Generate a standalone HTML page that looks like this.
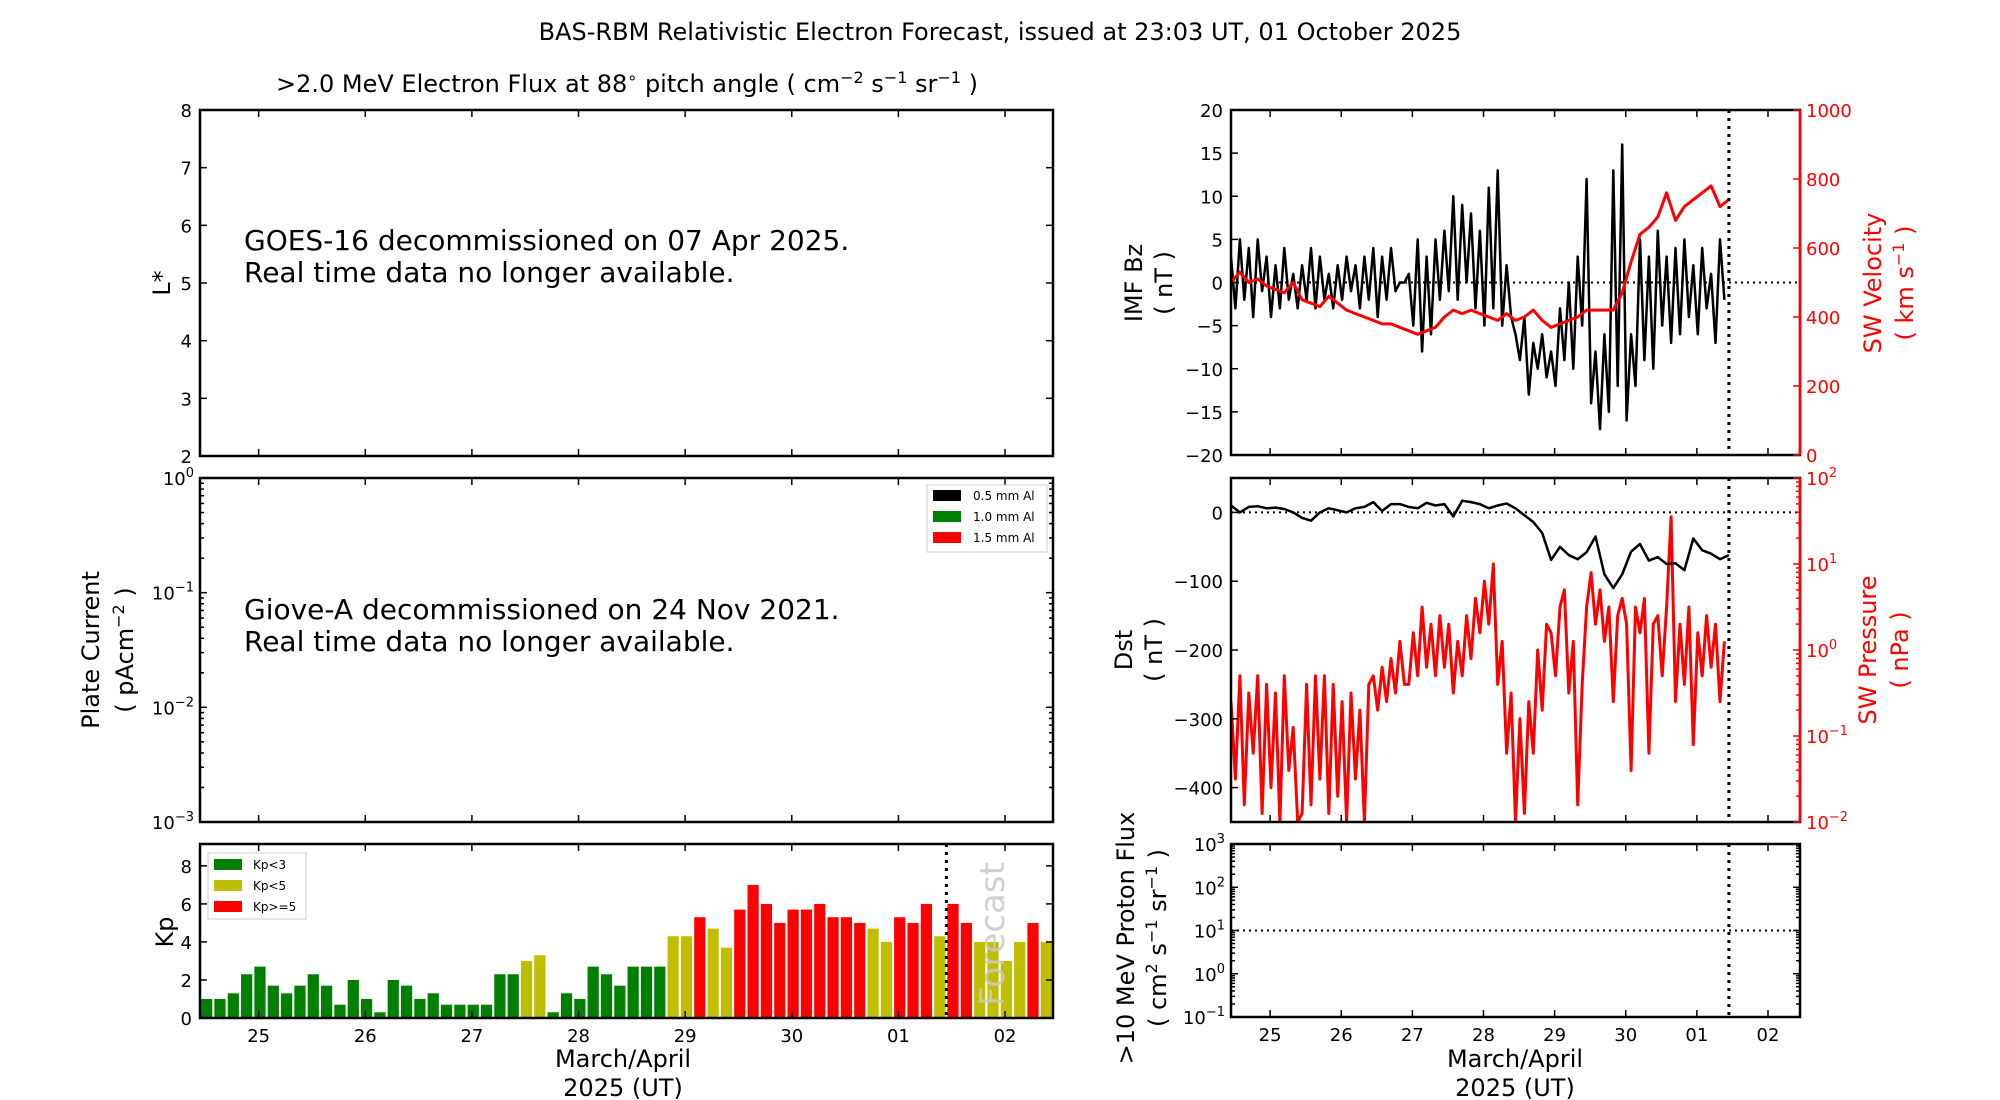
<!DOCTYPE html>
<html><head><meta charset="utf-8"><style>
html,body{margin:0;padding:0;background:#fff;}
svg{display:block;font-family:"DejaVu Sans","Liberation Sans",sans-serif;}
</style></head><body>
<svg id="fig" width="2000" height="1100" viewBox="0 0 2000 1100" xmlns="http://www.w3.org/2000/svg">
<rect width="2000" height="1100" fill="#fff"/>
<text x="1000" y="40" font-size="24" text-anchor="middle">BAS-RBM Relativistic Electron Forecast, issued at 23:03 UT, 01 October 2025</text>
<text x="627" y="92" font-size="24" text-anchor="middle">&gt;2.0 MeV Electron Flux at 88<tspan dy="-9" font-size="16">∘</tspan><tspan dy="9"> pitch angle ( cm</tspan><tspan dy="-9" font-size="16">−2</tspan><tspan dy="9"> s</tspan><tspan dy="-9" font-size="16">−1</tspan><tspan dy="9"> sr</tspan><tspan dy="-9" font-size="16">−1</tspan><tspan dy="9"> )</tspan></text>
<text x="244" y="250" font-size="28">GOES-16 decommissioned on 07 Apr 2025.</text>
<text x="244" y="282" font-size="28">Real time data no longer available.</text>
<text x="244" y="619" font-size="28">Giove-A decommissioned on 24 Nov 2021.</text>
<text x="244" y="651" font-size="28">Real time data no longer available.</text>
<text transform="translate(170,283) rotate(-90)" font-size="24" text-anchor="middle">L*</text>
<text transform="translate(99,650) rotate(-90)" font-size="24" text-anchor="middle">Plate Current</text>
<text transform="translate(133,650) rotate(-90)" font-size="24" text-anchor="middle">( pAcm<tspan dy="-9" font-size="16">−2</tspan><tspan dy="9"> )</tspan></text>
<text transform="translate(173,932) rotate(-90)" font-size="24" text-anchor="middle">Kp</text>
<text x="623" y="1067" font-size="24" text-anchor="middle">March/April</text>
<text x="623" y="1096" font-size="24" text-anchor="middle">2025 (UT)</text>
<text x="1515" y="1067" font-size="24" text-anchor="middle">March/April</text>
<text x="1515" y="1096" font-size="24" text-anchor="middle">2025 (UT)</text>
<text transform="translate(1142,283) rotate(-90)" font-size="24" text-anchor="middle">IMF Bz</text>
<text transform="translate(1172,283) rotate(-90)" font-size="24" text-anchor="middle">( nT )</text>
<text transform="translate(1881,283) rotate(-90)" font-size="24" fill="#f00" text-anchor="middle">SW Velocity</text>
<text transform="translate(1913,283) rotate(-90)" font-size="24" fill="#f00" text-anchor="middle">( km s<tspan dy="-9" font-size="16">−1</tspan><tspan dy="9"> )</tspan></text>
<text transform="translate(1132,650) rotate(-90)" font-size="24" text-anchor="middle">Dst</text>
<text transform="translate(1162,650) rotate(-90)" font-size="24" text-anchor="middle">( nT )</text>
<text transform="translate(1876,650) rotate(-90)" font-size="24" fill="#f00" text-anchor="middle">SW Pressure</text>
<text transform="translate(1908,650) rotate(-90)" font-size="24" fill="#f00" text-anchor="middle">( nPa )</text>
<text transform="translate(1134,938) rotate(-90)" font-size="24" text-anchor="middle">&gt;10 MeV Proton Flux</text>
<text transform="translate(1166,938) rotate(-90)" font-size="24" text-anchor="middle">( cm<tspan dy="-9" font-size="16">2</tspan><tspan dy="9"> s</tspan><tspan dy="-9" font-size="16">−1</tspan><tspan dy="9"> sr</tspan><tspan dy="-9" font-size="16">−1</tspan><tspan dy="9"> )</tspan></text>
<defs>
<clipPath id="clipR1"><rect x="1231" y="110" width="569" height="345"/></clipPath>
<clipPath id="clipR2"><rect x="1231" y="478" width="569" height="344"/></clipPath>
</defs>
<g id="marks"></g>
</svg>
<script>
// ---- data (time in days from plot start; tick labels) ----
const dayLabels = ["25","26","27","28","29","30","01","02"];
const kpValues = [1,1,1.3,2.3,2.7,1.7,1.3,1.7, 2.3,1.7,0.7,2,1,0.3,2,1.7, 1,1.3,0.7,0.7,0.7,0.7,2.3,2.3, 3,3.3,0.3,1.3,1,2.7,2.3,1.7, 2.7,2.7,2.7,4.3,4.3,5.3,4.7,3.7, 5.7,7,6,5,5.7,5.7,6,5.3, 5.3,5,4.7,4,5.3,5,6,4.3, 6,5,4,4,3,4,5,4];
const bzValues = [3,-3,5,-2,4,-4,5,-1,3,-4,2,-3,4,-2,1,-3, 2,-2,4,-3,3,-2,1,-3,2,-2,3,-1,2,-3,3,-2, 4,-4,3,-2,4,-1,0,0,1,-5,5,-8,3,-6,5,-2, 6,-1,10,-2,9,0,8,-3,6,-5,11,-3,13,-5,2,-4, -6,-9,-4,-13,-7,-10,-6,-11,-8,-12,-3,-9,0,-10,3,-5, 12,-14,-8,-17,-6,-15,13,-12,16,-16,-6,-12,5,-9,3,-10, 6,-5,3,-7,4,-6,5,-4,2,-6,4,-3,1,-7,5,-2];
const velValues = [500,530,500,510,490,480,470,500,450,440,430,460,440,420,410,400,390,380,380,370,360,350,360,370,400,420,410,420,410,400,390,410,390,400,420,390,370,380,390,400,420,420,420,420,470,560,640,660,690,760,680,720,740,760,780,720,740];
const dstValues = [10,0,8,9,6,7,5,0,-8,-12,0,6,3,0,6,8,15,2,12,12,8,6,14,10,12,-6,17,15,12,6,10,13,6,-4,-14,-30,-69,-50,-62,-68,-58,-35,-90,-110,-90,-57,-46,-70,-65,-75,-74,-84,-38,-55,-60,-68,-62];
const presLog = [-0.6,-1.5,-0.3,-1.8,-0.5,-1.2,-0.3,-1.9,-0.4,-1.6,-0.5,-2.0,-0.3,-1.4,-0.9,-2.0, -1.9,-0.4,-1.8,-0.3,-1.5,-0.3,-1.9,-0.4,-1.7,-0.6,-2.0,-0.5,-1.5,-0.7,-2.0,-0.4, -0.3,-0.7,-0.2,-0.6,-0.1,-0.5,0.1,-0.4,-0.4,0.2,-0.3,0.5,-0.2,0.3,-0.3,0.4, -0.2,0.3,-0.5,0.1,-0.3,0.4,-0.1,0.6,0.2,0.8,0.3,1.0,-0.4,0.1,-1.2,-0.5, -2.0,-0.8,-1.9,-0.6,-1.2,0.0,-0.7,0.3,0.2,-0.3,0.5,0.7,-0.5,0.1,-1.8,-0.4, 0.5,0.9,0.3,0.7,0.1,0.5,-0.6,0.4,0.6,0.3,-1.4,0.5,0.2,0.6,-1.2,0.3, 0.4,-0.3,0.5,1.55,-0.6,0.3,-0.4,0.5,-1.1,0.2,-0.3,0.4,-0.2,0.3,-0.6,0.1];
const nowDay = 7.0;
const firstTickDay = 0.55;
const kpTicks = [0,2,4,6,8];
const lstarTicks = [2,3,4,5,6,7,8];
const bzTicks = [-20,-15,-10,-5,0,5,10,15,20];
const velTicks = [0,200,400,600,800,1000];
const dstTicks = [0,-100,-200,-300,-400];

const NS = "http://www.w3.org/2000/svg";
const G = document.getElementById('marks');
function mk(tag, attrs, parent){ const e=document.createElementNS(NS,tag); for(const k in attrs) e.setAttribute(k,attrs[k]); (parent||G).appendChild(e); return e; }
function lin(d0,d1,r0,r1){ return v => r0 + (v-d0)/(d1-d0)*(r1-r0); }

const L = {x0:200,x1:1053}, R = {x0:1231,x1:1800};
const xL = lin(0,8,L.x0,L.x1), xR = lin(0,8,R.x0,R.x1);

function frame(x0,y0,x1,y1,name,redRight){
  const f = mk('rect',{x:x0,y:y0,width:x1-x0,height:y1-y0,fill:'none',stroke:'#000','stroke-width':2.5});
  
  
  if(redRight){ const r = mk('line',{x1:x1,y1:y0,x2:x1,y2:y1,stroke:'#f00','stroke-width':2.5});
    
     }
}
function label(x,y,s,anchor,color,name,sup){
  const t = mk('text',{x:x,y:y,'font-size':18,'text-anchor':anchor,fill:color||'#000'});
  
  
  t.textContent = s;
  if(sup!==undefined){ const ts=mk('tspan',{dy:-8,'font-size':13},t); ts.textContent=sup; }
  return t;
}
function tick(x1,y1,x2,y2,color){ const t=mk('line',{x1:x1,y1:y1,x2:x2,y2:y2,stroke:color||'#000','stroke-width':1.5});
  
   }
function xticks(xs,y0,y1,labels,pfx){
  for(let k=0;k<dayLabels.length;k++){
    const x = xs(firstTickDay+k);
    tick(x,y1,x,y1-7); tick(x,y0,x,y0+7);
    if(labels) label(x,y1+24,dayLabels[k],'middle','#000',pfx+'-x-tick-'+dayLabels[k]);
  }
}
function logTicks(ys,dmin,dmax,xa,xb,side,color,pfx){
  for(let d=dmin; d<=dmax; d++){
    const y = ys(d);
    if(side==='left'){ tick(xa,y,xa+7,y,color); label(xa-6,y+7,'10','end',color,pfx+'-tick-'+d,d<0?('−'+(-d)):String(d)); tick(xb,y,xb-7,y,color); }
    else { tick(xb,y,xb-7,y,color); label(xb+6,y+7,'10','start',color,pfx+'-tick-'+d,d<0?('−'+(-d)):String(d)); }
    if(d<dmax) for(let m=2;m<10;m++){ const ym=ys(d+Math.log10(m)); if(side==='left'){tick(xa,ym,xa+4,ym,color);tick(xb,ym,xb-4,ym,color);} else tick(xb,ym,xb-4,ym,color); }
  }
}
function polyline(pts,color,w,name,clip,dash){
  const p = mk('polyline',{points:pts.map(q=>q[0].toFixed(1)+','+q[1].toFixed(1)).join(' '),fill:'none',stroke:color,'stroke-width':w,'stroke-linejoin':'round'});
  if(clip) p.setAttribute('clip-path','url(#'+clip+')');
  if(dash) p.setAttribute('stroke-dasharray',dash);
  
  
}

// ---- Panel L1: L* ----
{ const y0=110,y1=456, ys=lin(2,8,y1,y0);
  frame(L.x0,y0,L.x1,y1,'lstar-panel');
  lstarTicks.forEach(v=>{ tick(L.x0,ys(v),L.x0+7,ys(v)); tick(L.x1,ys(v),L.x1-7,ys(v)); label(L.x0-8,ys(v)+7,String(v),'end','#000','lstar-tick-'+v); });
  xticks(xL,y0,y1,false,'lstar');
}
// ---- Panel L2: plate current ----
{ const y0=478,y1=822, ys=lin(-3,0,y1,y0);
  frame(L.x0,y0,L.x1,y1,'plate-current-panel');
  logTicks(ys,-3,0,L.x0,L.x1,'left','#000','plate-current');
  xticks(xL,y0,y1,false,'plate');
  const lg = mk('rect',{x:927,y:485,width:120,height:67,fill:'#fff',stroke:'#ccc','stroke-width':1});
  
  
  [['0.5 mm Al','#000'],['1.0 mm Al','#008000'],['1.5 mm Al','#f00']].forEach((e,i)=>{
    const sw = mk('rect',{x:933,y:490+i*21,width:28,height:11,fill:e[1]});
    
    
    const t = mk('text',{x:973,y:500+i*21,'font-size':12});
    
    
    t.textContent = e[0];
  });
}
// ---- Panel L3: Kp ----
{ const y0=844,y1=1018, ys=lin(0,9.15,y1,y0);
  kpValues.forEach((v,i)=>{
    const c = v<3?'#008000':(v<5?'#bfbf00':'#ff0000');
    const xa = xL(i/8+0.01), xb = xL((i+1)/8-0.01);
    const b = mk('rect',{x:xa,y:ys(v),width:xb-xa,height:ys(0)-ys(v),fill:c});
    
    
  });
  const fc = mk('text',{transform:'translate(1004,934) rotate(-90)','font-size':34,fill:'#c8c8c8','fill-opacity':0.85,'text-anchor':'middle'});
  
  
  fc.textContent='Forecast';
  polyline([[xL(nowDay),y0],[xL(nowDay),y1]],'#000',3,'kp-now-line',null,'3,5');
  frame(L.x0,y0,L.x1,y1,'kp-panel');
  kpTicks.forEach(v=>{ tick(L.x0,ys(v),L.x0+7,ys(v)); tick(L.x1,ys(v),L.x1-7,ys(v)); label(L.x0-8,ys(v)+7,String(v),'end','#000','kp-tick-'+v); });
  xticks(xL,y0,y1,true,'kp');
  const lg = mk('rect',{x:208,y:853,width:98,height:66,fill:'#fff',stroke:'#ccc','stroke-width':1});
  
  
  [['Kp<3','#008000'],['Kp<5','#bfbf00'],['Kp>=5','#f00']].forEach((e,i)=>{
    const sw = mk('rect',{x:214,y:859+i*21,width:28,height:11,fill:e[1]});
    
    
    const t = mk('text',{x:253,y:869+i*21,'font-size':12});
    
    
    t.textContent = e[0];
  });
}
// ---- Panel R1: IMF Bz / SW velocity ----
{ const y0=110,y1=455, ys=lin(-20,20,y1,y0), yv=lin(0,1000,y1,y0);
  polyline([[R.x0,ys(0)],[R.x1,ys(0)]],'#000',2,'bz-zero-line',null,'2,4');
  polyline(bzValues.map((v,i)=>[xR(i/16),ys(v)]),'#000',2.5,'bz-series','clipR1');
  polyline(velValues.map((v,i)=>[xR(i/8),yv(v)]),'#f00',3,'sw-velocity-series','clipR1');
  polyline([[xR(nowDay),y0],[xR(nowDay),y1]],'#000',3,'bz-now-line',null,'3,5');
  frame(R.x0,y0,R.x1,y1,'bz-panel',true);
  bzTicks.forEach(v=>{ tick(R.x0,ys(v),R.x0+7,ys(v)); label(R.x0-8,ys(v)+7,v<0?'−'+(-v):String(v),'end','#000','bz-tick-'+v); });
  velTicks.forEach(v=>{ tick(R.x1,yv(v),R.x1-7,yv(v),'#f00'); label(R.x1+6,yv(v)+7,String(v),'start','#f00','velocity-tick-'+v); });
  xticks(xR,y0,y1,false,'bz');
}
// ---- Panel R2: Dst / pressure ----
{ const y0=478,y1=822, ys=lin(50,-450,y0,y1), yp=lin(-2,2,y1,y0);
  polyline([[R.x0,ys(0)],[R.x1,ys(0)]],'#000',2,'dst-zero-line',null,'2,4');
  polyline(presLog.map((v,i)=>[xR(i/16),yp(v)]),'#f00',3,'sw-pressure-series','clipR2');
  polyline(dstValues.map((v,i)=>[xR(i/8),ys(v)]),'#000',2.5,'dst-series','clipR2');
  polyline([[xR(nowDay),y0],[xR(nowDay),y1]],'#000',3,'dst-now-line',null,'3,5');
  frame(R.x0,y0,R.x1,y1,'dst-panel',true);
  dstTicks.forEach(v=>{ tick(R.x0,ys(v),R.x0+7,ys(v)); label(R.x0-8,ys(v)+7,v<0?'−'+(-v):String(v),'end','#000','dst-tick-'+v); });
  logTicks(yp,-2,2,R.x0,R.x1,'right','#f00','pressure');
  xticks(xR,y0,y1,false,'dst');
}
// ---- Panel R3: proton flux ----
{ const y0=844,y1=1017, ys=lin(-1,3,y1,y0);
  polyline([[R.x0,ys(1)],[R.x1,ys(1)]],'#000',2,'proton-threshold-line',null,'2,4');
  polyline([[xR(nowDay),y0],[xR(nowDay),y1]],'#000',3,'proton-now-line',null,'3,5');
  frame(R.x0,y0,R.x1,y1,'proton-panel');
  logTicks(ys,-1,3,R.x0,R.x1,'left','#000','proton');
  xticks(xR,y0,y1,true,'proton');
}
</script>
</body></html>
